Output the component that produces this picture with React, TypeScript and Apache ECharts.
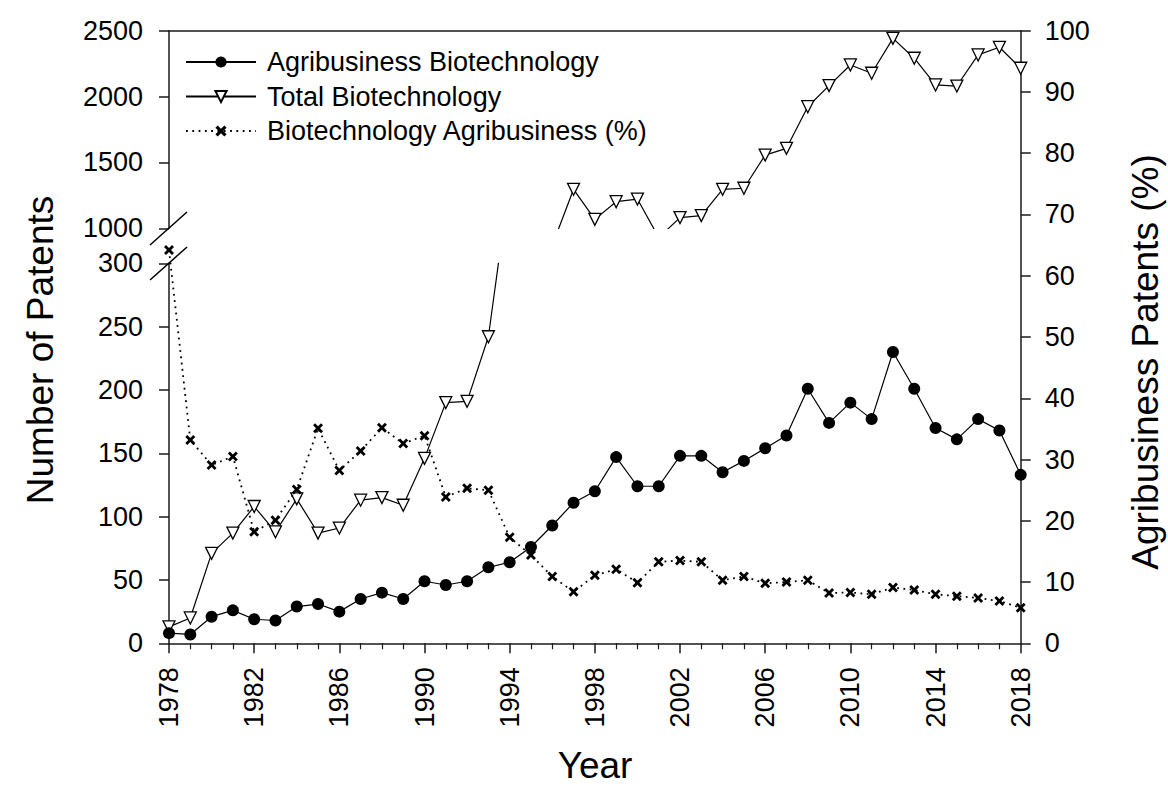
import React, { useEffect, useRef } from "react";
import * as echarts from "echarts";

const years: number[] = [
  1978, 1979, 1980, 1981, 1982, 1983, 1984, 1985, 1986, 1987, 1988, 1989, 1990,
  1991, 1992, 1993, 1994, 1995, 1996, 1997, 1998, 1999, 2000, 2001, 2002, 2003,
  2004, 2005, 2006, 2007, 2008, 2009, 2010, 2011, 2012, 2013, 2014, 2015, 2016,
  2017, 2018,
];

const agribusinessBiotech: number[] = [
  8, 7, 21, 26, 19, 18, 29, 31, 25, 35, 40, 35, 49, 46, 49, 60, 64, 76, 93, 111,
  120, 147, 124, 124, 148, 148, 135, 144, 154, 164, 201, 174, 190, 177, 230, 201,
  170, 161, 177, 168, 133,
];

const totalBiotech: number[] = [
  13, 20, 71, 87, 108, 88, 114, 87, 91, 113, 115, 109, 146, 190, 191, 242, 365,
  530, 870, 1296, 1068, 1202, 1222, 930, 1081, 1096, 1296, 1304, 1556, 1607, 1923,
  2083, 2240, 2177, 2442, 2291, 2088, 2080, 2316, 2374, 2215,
];

const agribusinessPct: number[] = [
  64.2, 33.2, 29.1, 30.5, 18.2, 20.1, 25.1, 35.1, 28.2, 31.4, 35.2, 32.6, 33.9,
  23.9, 25.3, 25.0, 17.3, 14.4, 10.9, 8.4, 11.1, 12.1, 9.9, 13.3, 13.5, 13.3, 10.3,
  10.9, 9.8, 10.0, 10.3, 8.2, 8.3, 8.0, 9.1, 8.7, 8.0, 7.7, 7.4, 6.9, 5.8,
];

const seriesNames = [
  "Agribusiness Biotechnology",
  "Total Biotechnology",
  "Biotechnology Agribusiness (%)",
];

const xTitle = "Year";
const leftTitle = "Number of Patents";
const rightTitle = "Agribusiness Patents (%)";

const FONT = "'Liberation Sans', Arial, Helvetica, sans-serif";
const INK = "#000";
const AXIS = "#1a1a1a";
const X_SYMBOL =
  "path://M0,2 L2,0 L5,3 L8,0 L10,2 L7,5 L10,8 L8,10 L5,7 L2,10 L0,8 L3,5 Z";

export default function App() {
  const ref = useRef<HTMLDivElement>(null);

  useEffect(() => {
    if (!ref.current) return;
    const chart = echarts.init(ref.current, undefined, { renderer: "svg" });

    const pair = (vals: number[]) => years.map((y, i) => [y, vals[i]]);
    const plain = (v: number) => String(v);

    const GL = 169;
    const W = 1020.7 - 169;

    const labelStyle = { color: INK, fontSize: 27, fontFamily: FONT, formatter: plain };
    const axisLine = { show: true, lineStyle: { color: AXIS, width: 1.5 } };
    const axisTick = { show: true, inside: false, length: 10, lineStyle: { color: AXIS, width: 1.5 } };

    const baseX = {
      type: "value",
      min: 1978,
      max: 2018,
      interval: 4,
      splitLine: { show: false },
    };

    const option: any = {
      animation: false,
      textStyle: { fontFamily: FONT },
      grid: [
        { left: GL, width: W, top: 263.3, height: 380 },
        { left: GL, width: W, top: 30.7, height: 197.6 },
        { left: GL, width: W, top: 30.7, height: 612.6 },
      ],
      xAxis: [
        {
          ...baseX,
          gridIndex: 0,
          position: "bottom",
          axisLine,
          axisTick,
          minorTick: { show: true, splitNumber: 4, length: 6, lineStyle: { color: AXIS, width: 1.2 } },
          axisLabel: { ...labelStyle, rotate: 90, margin: 24 },
        },
        {
          ...baseX,
          gridIndex: 1,
          position: "top",
          axisLine,
          axisTick: { show: false },
          axisLabel: { show: false },
        },
        { ...baseX, gridIndex: 2, show: false },
      ],
      yAxis: [
        {
          type: "value",
          gridIndex: 0,
          min: 0,
          max: 300,
          interval: 50,
          position: "left",
          axisLine,
          axisTick,
          splitLine: { show: false },
          axisLabel: { ...labelStyle, margin: 26 },
        },
        {
          type: "value",
          gridIndex: 1,
          min: 1000,
          max: 2500,
          interval: 500,
          position: "left",
          axisLine,
          axisTick,
          splitLine: { show: false },
          axisLabel: { ...labelStyle, margin: 26 },
        },
        {
          type: "value",
          gridIndex: 2,
          min: 0,
          max: 100,
          interval: 10,
          position: "right",
          axisLine,
          axisTick,
          splitLine: { show: false },
          axisLabel: { ...labelStyle, margin: 24 },
        },
      ],
      legend: {
        orient: "vertical",
        left: 185,
        top: 48,
        padding: 0,
        itemWidth: 70,
        itemHeight: 14,
        itemGap: 6.5,
        data: seriesNames,
        textStyle: { color: INK, fontSize: 27, fontFamily: FONT, lineHeight: 28, padding: [0, 0, 0, 6] },
        selectedMode: false,
      },
      series: [
        {
          name: seriesNames[1],
          type: "line",
          xAxisIndex: 0,
          yAxisIndex: 0,
          data: pair(totalBiotech),
          clip: true,
          symbol: "triangle",
          symbolRotate: 180,
          symbolSize: 12,
          lineStyle: { color: INK, width: 1.2 },
          itemStyle: { color: "#fff", borderColor: INK, borderWidth: 1.3 },
          z: 2,
        },
        {
          name: seriesNames[1],
          type: "line",
          xAxisIndex: 1,
          yAxisIndex: 1,
          data: pair(totalBiotech),
          clip: true,
          symbol: "triangle",
          symbolRotate: 180,
          symbolSize: 12,
          lineStyle: { color: INK, width: 1.2 },
          itemStyle: { color: "#fff", borderColor: INK, borderWidth: 1.3 },
          z: 2,
        },
        {
          name: seriesNames[0],
          type: "line",
          xAxisIndex: 0,
          yAxisIndex: 0,
          data: pair(agribusinessBiotech),
          clip: true,
          symbol: "circle",
          symbolSize: 12,
          lineStyle: { color: INK, width: 1.2 },
          itemStyle: { color: INK },
          z: 3,
        },
        {
          name: seriesNames[2],
          type: "line",
          xAxisIndex: 2,
          yAxisIndex: 2,
          data: pair(agribusinessPct),
          clip: true,
          symbol: X_SYMBOL,
          symbolSize: 10,
          lineStyle: { color: INK, width: 1.8, type: [1.8, 4.5] },
          itemStyle: { color: INK },
          z: 4,
        },
      ],
      graphic: [
        {
          type: "line",
          shape: { x1: 150, y1: 245, x2: 187, y2: 212 },
          style: { stroke: INK, lineWidth: 1.5 },
          z: 100,
        },
        {
          type: "line",
          shape: { x1: 150, y1: 280, x2: 187, y2: 247 },
          style: { stroke: INK, lineWidth: 1.5 },
          z: 100,
        },
        {
          type: "text",
          x: 40,
          y: 350,
          rotation: Math.PI / 2,
          style: {
            text: leftTitle,
            fontSize: 37,
            fontFamily: FONT,
            fill: INK,
            align: "center",
            verticalAlign: "middle",
          },
        },
        {
          type: "text",
          x: 1145,
          y: 362,
          rotation: Math.PI / 2,
          style: {
            text: rightTitle,
            fontSize: 37,
            fontFamily: FONT,
            fill: INK,
            align: "center",
            verticalAlign: "middle",
          },
        },
        {
          type: "text",
          x: 595,
          y: 765,
          style: {
            text: xTitle,
            fontSize: 37,
            fontFamily: FONT,
            fill: INK,
            align: "center",
            verticalAlign: "middle",
          },
        },
      ],
    };

    chart.setOption(option);
    return () => chart.dispose();
  }, []);

  return (
    <div
      ref={ref}
      style={{ position: "fixed", left: 0, top: 0, width: 1168, height: 802, background: "#fff" }}
    />
  );
}
